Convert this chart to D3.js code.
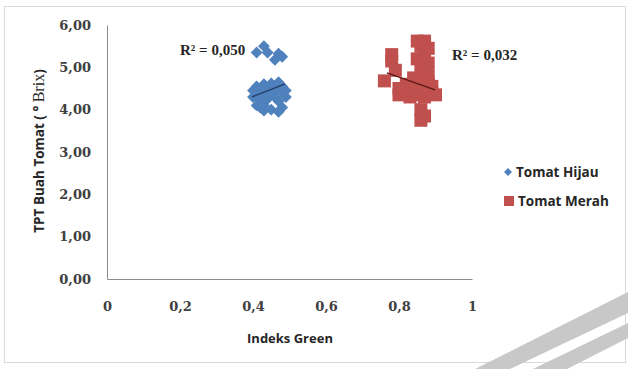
<!DOCTYPE html>
<meta charset="utf-8">
<style>
    body { margin: 0; background: #fff; }
    text.tick { font-family: "DejaVu Serif", serif; font-weight: bold; font-size: 13px; fill: #404040; }
    text.title { font-family: "Open Sans", sans-serif; font-weight: bold; font-size: 13px; fill: #262626; }
    text.r2 { font-family: "Liberation Serif", serif; font-weight: bold; font-size: 15px; fill: #262626; }
    text.legend { font-family: "Open Sans", sans-serif; font-weight: bold; font-size: 13.5px; fill: #262626; }
</style>
<body>
<script src="https://cdn.jsdelivr.net/npm/d3@7"></script>
<script>
    // data
    var hijauX = [0.43, 0.41, 0.44, 0.47, 0.48, 0.46,
                  0.40, 0.41, 0.42, 0.43, 0.44, 0.45, 0.46, 0.47, 0.48, 0.49,
                  0.42, 0.43, 0.44, 0.45, 0.41, 0.43, 0.47, 0.48, 0.49, 0.47, 0.46, 0.40,
                  0.41, 0.42, 0.45, 0.44, 0.48, 0.43, 0.46, 0.42];
    var hijauY = [5.50, 5.35, 5.35, 5.32, 5.25, 5.18,
                  4.45, 4.55, 4.35, 4.60, 4.50, 4.62, 4.55, 4.65, 4.40, 4.45,
                  4.20, 4.10, 4.25, 4.00, 4.10, 3.98, 4.20, 4.05, 4.30, 3.95, 4.30, 4.30,
                  4.38, 4.50, 4.45, 4.40, 4.55, 4.30, 4.45, 4.05];
    var merahX = [0.85, 0.87, 0.86, 0.88, 0.87, 0.85, 0.88, 0.86, 0.87, 0.78, 0.78, 0.79, 0.76, 0.80,
                  0.82, 0.84, 0.86, 0.88, 0.89, 0.90, 0.85, 0.87, 0.86, 0.87, 0.86, 0.82, 0.84, 0.88,
                  0.80, 0.83, 0.89, 0.85];
    var merahY = [5.62, 5.62, 5.50, 5.45, 5.30, 5.20, 5.10, 5.00, 4.90, 5.30, 5.15, 4.93, 4.68, 4.50,
                  4.40, 4.50, 4.60, 4.65, 4.40, 4.35, 4.35, 4.30, 4.00, 3.85, 3.75, 4.60, 4.75, 4.80,
                  4.35, 4.30, 4.55, 4.45];
    var trendHijau = [[0.397, 4.30], [0.488, 4.61]];
    var trendMerah = [[0.767, 4.87], [0.899, 4.47]];
    var r2Labels = ["R\u00b2 = 0,050", "R\u00b2 = 0,032"];
    var seriesNames = ["Tomat Hijau", "Tomat Merah"];
    var xTicks = [0, 0.2, 0.4, 0.6, 0.8, 1];
    var yTicks = [0, 1, 2, 3, 4, 5, 6];

    var width = 628, height = 369;
    var blue = "#4f81bd", red = "#c0504d";

    var svg = d3.select("body").append("svg")
        .attr("width", width)
        .attr("height", height);

    // chart border
    svg.append("rect")
        .attr("x", 4.5).attr("y", 6.5)
        .attr("width", 621).attr("height", 356)
        .attr("fill", "none")
        .attr("stroke", "#d9d9d9");

    var x = d3.scaleLinear().domain([0, 1]).range([107, 472]);
    var y = d3.scaleLinear().domain([0, 6]).range([279, 25]);

    var fmtY = function(d) { return d3.format(".2f")(d).replace(".", ","); };
    var fmtX = function(d) { return String(d).replace(".", ","); };

    // axes
    var gx = svg.append("g").attr("transform", "translate(0,279)")
        .call(d3.axisBottom(x).tickValues(xTicks).tickSize(0).tickPadding(23).tickFormat(fmtX));
    var gy = svg.append("g").attr("transform", "translate(107,0)")
        .call(d3.axisLeft(y).tickValues(yTicks).tickSize(0).tickPadding(16).tickFormat(fmtY));
    [gx, gy].forEach(function(g) {
        g.select(".domain").attr("stroke", "#8c8c8c");
        g.selectAll("text").attr("class", "tick").attr("font-family", null).attr("font-size", null).attr("fill", null);
    });

    // points
    var hijau = hijauX.map(function(v, i) { return [v, hijauY[i]]; });
    var merah = merahX.map(function(v, i) { return [v, merahY[i]]; });

    svg.append("g").selectAll("path")
        .data(hijau).enter().append("path")
        .attr("transform", function(d) { return "translate(" + x(d[0]) + "," + y(d[1]) + ")"; })
        .attr("d", d3.symbol(d3.symbolDiamond2, 90))
        .attr("fill", blue);

    svg.append("g").selectAll("rect")
        .data(merah).enter().append("rect")
        .attr("x", function(d) { return x(d[0]) - 6.5; })
        .attr("y", function(d) { return y(d[1]) - 6.5; })
        .attr("width", 13).attr("height", 13)
        .attr("fill", red);

    // trend lines
    var line = d3.line().x(function(d) { return x(d[0]); }).y(function(d) { return y(d[1]); });
    svg.append("path").attr("d", line(trendHijau)).attr("stroke", "#1f3a63").attr("stroke-width", 1.3).attr("fill", "none");
    svg.append("path").attr("d", line(trendMerah)).attr("stroke", "#5a1a18").attr("stroke-width", 1.3).attr("fill", "none");

    // R2 labels
    svg.append("text").attr("class", "r2").attr("x", 180).attr("y", 55).text(r2Labels[0]);
    svg.append("text").attr("class", "r2").attr("x", 452).attr("y", 60).text(r2Labels[1]);

    // axis titles
    svg.append("text").attr("class", "title")
        .attr("x", 290).attr("y", 343).attr("text-anchor", "middle")
        .text("Indeks Green");
    var yt = svg.append("text").attr("class", "title")
        .attr("transform", "translate(44,151) rotate(-90)")
        .attr("text-anchor", "middle")
        .style("font-size", "13.5px");
    yt.append("tspan").text("TPT Buah Tomat ( \u00b0 ");
    yt.append("tspan").attr("font-family", "Liberation Serif, serif").attr("font-weight", "normal").attr("font-size", "16px").text("Brix");
    yt.append("tspan").text(")");

    // legend
    var leg = svg.append("g");
    leg.append("path")
        .attr("transform", "translate(508,172)")
        .attr("d", d3.symbol(d3.symbolDiamond2, 40))
        .attr("fill", blue);
    leg.append("rect").attr("x", 504).attr("y", 196).attr("width", 10).attr("height", 10).attr("fill", red);
    leg.append("text").attr("class", "legend").attr("x", 516).attr("y", 177).text(seriesNames[0]);
    leg.append("text").attr("class", "legend").attr("x", 518).attr("y", 206).text(seriesNames[1]);

    // watermark stripes
    svg.append("polygon").attr("points", "475,369 628,292 628,313 510,369").attr("fill", "#c8c8c8");
    svg.append("polygon").attr("points", "533,369 628,323 628,338 567,369").attr("fill", "#c8c8c8");
</script>
</body>
